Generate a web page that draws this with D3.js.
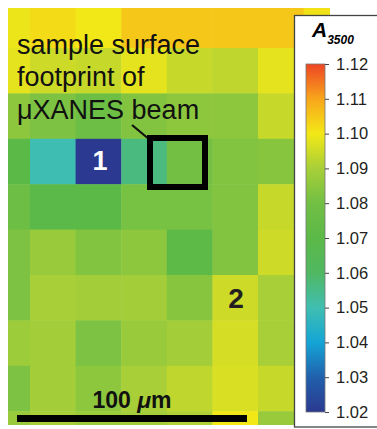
<!DOCTYPE html>
<html>
<head>
<meta charset="utf-8">
<script src="https://cdn.jsdelivr.net/npm/d3@7"></script>
<style>
  body { margin: 0; background: #fff; }
  svg text { font-family: "Liberation Sans", Arial, Helvetica, sans-serif; }
</style>
</head>
<body>
<svg id="chart" width="377" height="429"></svg>
<script>
// A3500 map values, one array per row of 20 um pixels (top to bottom)
var row0 = [1.099, 1.102, 1.100, 1.105, 1.105, 1.105, 1.105, 1.101];
var row1 = [1.098, 1.095, 1.094, 1.098, 1.094, 1.093, 1.098, 1.097];
var row2 = [1.085, 1.082, 1.078, 1.083, 1.085, 1.085, 1.094, 1.092];
var row3 = [1.070, 1.0495, 1.020, 1.0565, 1.080, 1.083, 1.084, 1.088];
var row4 = [1.078, 1.0695, 1.070, 1.081, 1.081, 1.083, 1.094, 1.092];
var row5 = [1.082, 1.087, 1.083, 1.085, 1.071, 1.083, 1.095, 1.092];
var row6 = [1.082, 1.090, 1.089, 1.089, 1.084, 1.095, 1.090, 1.092];
var row7 = [1.088, 1.089, 1.082, 1.087, 1.089, 1.096, 1.090, 1.092];
var row8 = [1.082, 1.089, 1.085, 1.090, 1.093, 1.0965, 1.094, 1.092];
var row9 = [1.087, 1.090, 1.088, 1.089, 1.091, 1.100, 1.087, 1.090];
var rows = [row0, row1, row2, row3, row4, row5, row6, row7, row8, row9];

var pixelSize = 20;            // um
var cbTicks = [1.02, 1.03, 1.04, 1.05, 1.06, 1.07, 1.08, 1.09, 1.10, 1.11, 1.12];
var cmapStops = [1.02, 1.03, 1.04, 1.05, 1.06, 1.07, 1.08, 1.09, 1.10, 1.11, 1.12];
var cmapColors = ["#2b3990", "#2160ac", "#14a5d6", "#40beb1", "#50b862", "#5bb947",
                  "#72bf44", "#a8cf38", "#f3e817", "#f8a51b", "#ee4524"];

var svg = d3.select("svg#chart");

// um -> px
var pxPerUm = 46 / pixelSize;
var x = d3.scaleLinear().domain([0, 8 * pixelSize]).range([-15.6, -15.6 + 8 * 45.6]);
var y = d3.scaleLinear().domain([0, 10 * pixelSize]).range([2.6, 2.6 + 10 * 45.4]);
var color = d3.scaleLinear().domain(cmapStops).range(cmapColors).interpolate(d3.interpolateRgb).clamp(true);

// clip the map to the visible window
var defs = svg.append("defs");
defs.append("clipPath").attr("id", "mapclip").append("rect")
    .attr("x", 8).attr("y", 8).attr("width", 322).attr("height", 417);

var map = svg.append("g").attr("clip-path", "url(#mapclip)");
rows.forEach(function(r, i) {
    map.selectAll("rect.r" + i).data(r).enter().append("rect")
        .attr("class", "r" + i)
        .attr("x", function(d, j) { return x(j * pixelSize); })
        .attr("y", y(i * pixelSize))
        .attr("width", x(pixelSize) - x(0) + 0.5)
        .attr("height", y(pixelSize) - y(0) + 0.5)
        .attr("fill", function(d) { return color(d); });
});

// annotation text
var note = ["sample surface", "footprint of", "\u03bcXANES beam"];
svg.append("g").selectAll("text").data(note).enter().append("text")
    .attr("x", 17).attr("y", function(d, i) { return 54 + i * 32.3; })
    .style("font-size", "27px").attr("fill", "#111").text(function(d) { return d; });

svg.append("line").attr("x1", 132).attr("y1", 125).attr("x2", 150).attr("y2", 140)
    .attr("stroke", "#111").attr("stroke-width", 2.2);

// beam footprint box
svg.append("rect").attr("x", 150).attr("y", 138).attr("width", 55).attr("height", 49)
    .attr("fill", "none").attr("stroke", "#000").attr("stroke-width", 6);

svg.append("text").attr("x", 100).attr("y", 170).attr("text-anchor", "middle")
    .style("font-size", "27px").style("font-weight", "bold").attr("fill", "#fff").text("1");
svg.append("text").attr("x", 236).attr("y", 308).attr("text-anchor", "middle")
    .style("font-size", "28px").style("font-weight", "bold").attr("fill", "#231f20").text("2");

// scale bar
var barLen = 100 * pxPerUm;
svg.append("rect").attr("x", 132 - barLen / 2).attr("y", 415).attr("width", barLen).attr("height", 7)
    .attr("fill", "#000");
var sb = svg.append("text").attr("x", 132).attr("y", 408).attr("text-anchor", "middle")
    .style("font-size", "23px").style("font-weight", "bold").attr("fill", "#111");
sb.append("tspan").text("100 ");
sb.append("tspan").style("font-style", "italic").text("\u03bc");
sb.append("tspan").text("m");

// colorbar panel
svg.append("rect").attr("x", 294.5).attr("y", 15.5).attr("width", 100).attr("height", 411.5)
    .attr("fill", "#fff").attr("stroke", "#444").attr("stroke-width", 1.3);

var t = svg.append("text").attr("x", 312).attr("y", 37).attr("fill", "#000")
    .style("font-weight", "bold").style("font-style", "italic");
t.append("tspan").style("font-size", "21px").text("A");
t.append("tspan").attr("dy", 7).style("font-size", "12px").text("3500");

var cb = d3.scaleLinear().domain([1.02, 1.12]).range([412, 64]);
var grad = defs.append("linearGradient").attr("id", "cbgrad")
    .attr("x1", 0).attr("y1", 1).attr("x2", 0).attr("y2", 0);
grad.selectAll("stop").data(cmapStops).enter().append("stop")
    .attr("offset", function(d) { return (d - 1.02) / 0.10; })
    .attr("stop-color", function(d) { return color(d); });

svg.append("rect").attr("x", 306).attr("y", cb(1.12)).attr("width", 19).attr("height", cb(1.02) - cb(1.12))
    .attr("fill", "url(#cbgrad)").attr("stroke", "#777").attr("stroke-width", 0.8);

var cbAxis = d3.axisRight(cb).tickValues(cbTicks).tickSize(4).tickPadding(7).tickFormat(d3.format(".2f"));
var ax = svg.append("g").attr("transform", "translate(325,0)").call(cbAxis);
ax.select(".domain").remove();
ax.selectAll("line").attr("stroke", "#444");
ax.selectAll("text").style("font-size", "16.5px").style("font-family", "'Liberation Sans', Arial, sans-serif")
    .attr("fill", "#231f20");
</script>
</body>
</html>
